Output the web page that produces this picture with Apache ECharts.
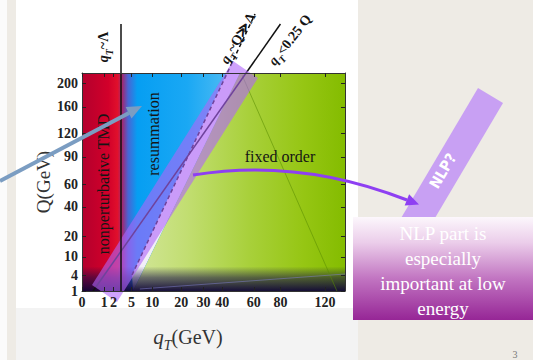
<!DOCTYPE html>
<html>
<head>
<meta charset="utf-8">
<script src="https://cdn.jsdelivr.net/npm/echarts@6/dist/echarts.min.js"></script>
<style>
  html, body { margin: 0; padding: 0; background: #eeebe5; }
  #chart { width: 533px; height: 360px; }
</style>
</head>
<body>
<div id="chart"></div>
<script>
// axis ticks (GeV), both axes are on a square-root scale
const qtTicks = [0, 1, 2, 5, 10, 20, 30, 40, 60, 80, 120];
const qTicks = [1, 4, 10, 20, 40, 60, 90, 120, 160, 200];
const qtMax = 140.5, qMin = 1, qMax = 218.7;

// regions, points are [qT, Q] in GeV
const fullPlane = [[0, 1], [140.5, 1], [140.5, 218.7], [0, 218.7]];
const gapRegion = [[5.08, 4.05], [42.7, 218.7], [50.7, 218.7], [5.3, 1]];
const fixedOrderRegion = [[5.3, 1], [50.7, 218.7], [140.5, 218.7], [140.5, 1]];
const lowQRegion = [[0, 1], [140.5, 1], [140.5, 6.5], [0, 6.5]];
const nlpBand = [[0.203, 1.903], [2.488, 0.0924], [62.9, 209.5], [46.31, 241.7]];

// lines
const lambdaLine = [[3.09, 1], [3.09, 320]];
const quarterQLine = [[0.25, 1], [80, 320]];      // qT = 0.25 Q
const qEqualLine = [[5.08, 4.05], [60.8, 343]];   // qT ~ Q >> Lambda
const triangleEdge = [[52, 215], [132, 1]];
const lowQEdge = [[6.8, 1.27], [140.5, 4.3]];

// in-plot labels
const notes = [
  { at: [0.98, 270], rot: 90, text: '{i|q}{s|T}~Λ', size: 14 },
  { at: [49.4, 289], rot: 60, text: '{i|q}{s|T}~Q≫Λ', size: 14 },
  { at: [87.9, 285], rot: 52, text: '{i|q}{s|T}<0.25 Q', size: 14 },
  { at: [0.9, 60.4], rot: 90, text: 'nonperturbative TMD', size: 16 },
  { at: [10.24, 119.5], rot: 90, text: 'resummation', size: 16 },
  { at: [79.6, 89.8], rot: 0, text: 'fixed order', size: 16 }
];

const SERIF = '"Liberation Serif", "DejaVu Serif", serif';
const sq = p => [Math.sqrt(p[0]), Math.sqrt(p[1])];

function region(name, pts, fill, z, clip) {
  return {
    type: 'custom', name, z, clip, silent: true, data: [[0, 1]],
    renderItem: (params, api) => ({
      type: 'polygon',
      shape: { points: pts.map(p => api.coord(sq(p))) },
      style: { fill }
    })
  };
}

function line(name, pts, lineStyle, z) {
  return {
    type: 'line', name, z, data: pts.map(sq), symbol: 'none',
    clip: false, silent: true, lineStyle
  };
}

const grad = (x2, y2, stops) => ({
  type: 'linear', x: 0, y: 0, x2, y2,
  colorStops: stops.map(s => ({ offset: s[0], color: s[1] }))
});

function noteRich(size) {
  return {
    i: { fontStyle: 'italic', fontSize: size, fontFamily: SERIF, fontWeight: 'bold', lineHeight: size + 8, verticalAlign: 'middle' },
    s: { fontStyle: 'italic', fontSize: size - 4, fontFamily: SERIF, fontWeight: 'bold', lineHeight: size + 8, verticalAlign: 'bottom' }
  };
}

const axisCommon = (vals, showLabel, position) => ({
  type: 'value',
  position,
  axisLine: { show: true, onZero: false, lineStyle: { color: '#333', width: 1 } },
  axisTick: { show: true, inside: true, length: 4, customValues: vals.map(v => Math.sqrt(v)), lineStyle: { color: '#222' } },
  axisLabel: {
    show: showLabel,
    customValues: vals.map(v => Math.sqrt(v)),
    formatter: v => String(Math.round(v * v)),
    fontFamily: SERIF, fontWeight: 'bold', fontSize: 14, color: '#222',
    margin: 4, hideOverlap: false
  },
  splitLine: { show: false },
  z: 10
});

const chart = echarts.init(document.getElementById('chart'), null, { renderer: 'svg' });

chart.setOption({
  animation: false,
  backgroundColor: '#eeebe5',
  grid: { left: 82, top: 73, width: 263, height: 218, containLabel: false, outerBoundsMode: 'none' },
  xAxis: [
    Object.assign(axisCommon(qtTicks, true, 'bottom'), { min: 0, max: Math.sqrt(qtMax) }),
    Object.assign(axisCommon(qtTicks, false, 'top'), { min: 0, max: Math.sqrt(qtMax) })
  ],
  yAxis: [
    Object.assign(axisCommon(qTicks, true, 'left'), {
      min: Math.sqrt(qMin), max: Math.sqrt(qMax),
      name: 'Q(GeV)', nameLocation: 'middle', nameRotate: 90, nameGap: 20,
      nameTextStyle: { fontFamily: SERIF, fontSize: 19, color: '#333' }
    }),
    Object.assign(axisCommon(qTicks, false, 'right'), { min: Math.sqrt(qMin), max: Math.sqrt(qMax) })
  ],
  series: [
    region('base', fullPlane, grad(1, 0, [
      [0, '#b3002d'], [0.1, '#d2002a'], [0.135, '#e0102c'], [0.155, '#9a2c78'],
      [0.175, '#4a64d4'], [0.21, '#069ef2'], [0.4, '#1aa8f4'], [0.6, '#5cc0f2'], [1, '#9fd8f0']
    ]), 1, true),
    region('gap', gapRegion, '#f2eef8', 2, true),
    region('fixed order', fixedOrderRegion, grad(1, 0, [
      [0, '#d2e69a'], [0.25, '#c2de72'], [0.55, '#a8d03a'], [0.8, '#96c614'], [1, '#84bc00']
    ]), 2, true),
    line('triangle edge', triangleEdge, { color: 'rgba(90,140,0,0.55)', width: 1 }, 3),
    region('low Q', lowQRegion, grad(0, 1, [
      [0, 'rgba(20,10,70,0)'], [0.45, 'rgba(20,10,70,0.55)'], [1, 'rgba(15,5,55,0.95)']
    ]), 3, true),
    line('low Q edge', lowQEdge, { color: 'rgba(130,130,210,0.5)', width: 1 }, 3),
    line('qT<0.25Q', quarterQLine, { color: '#111', width: 1.5 }, 4),
    line('qT~Q', qEqualLine, { color: '#111', width: 1.5, type: [4, 3] }, 4),
    region('NLP band', nlpBand, 'rgba(175,100,250,0.6)', 5, false),
    line('qT~Lambda', lambdaLine, { color: '#111', width: 1.5 }, 6),
    {
      type: 'custom', name: 'labels', z: 7, clip: false, silent: true,
      data: notes.map(n => sq(n.at)),
      renderItem: (params, api) => {
        const n = notes[params.dataIndex];
        const c = api.coord([api.value(0), api.value(1)]);
        return {
          type: 'text', x: c[0], y: c[1], rotation: n.rot * Math.PI / 180,
          style: {
            text: n.text, rich: noteRich(n.size), fill: '#151515',
            fontFamily: SERIF, fontSize: n.size, fontWeight: n.size === 14 ? 'bold' : 'normal',
            align: 'center', verticalAlign: 'middle'
          }
        };
      }
    }
  ],
  graphic: [
    { type: 'rect', z: 0, silent: true, shape: { x: 0, y: 0, width: 7, height: 360 }, style: { fill: '#fbfbfb' } },
    { type: 'rect', z: 0, silent: true, shape: { x: 16, y: 0, width: 342, height: 308 }, style: { fill: '#ffffff' } },
    { type: 'rect', z: 0, silent: true, shape: { x: 16, y: 308, width: 342, height: 52 }, style: { fill: '#f3f3f3' } },
    // x axis title
    {
      type: 'text', z: 100, x: 188, y: 337, silent: true,
      style: {
        text: '{i|q}{s|T}{n|(GeV)}', align: 'center', verticalAlign: 'middle', fill: '#333',
        rich: {
          i: { fontStyle: 'italic', fontFamily: SERIF, fontSize: 21, lineHeight: 30, verticalAlign: 'middle' },
          s: { fontStyle: 'italic', fontFamily: SERIF, fontSize: 14, lineHeight: 30, verticalAlign: 'bottom' },
          n: { fontFamily: SERIF, fontSize: 20, lineHeight: 30, verticalAlign: 'middle' }
        }
      }
    },
    // steel blue arrow from the left
    { type: 'polyline', z: 100, silent: true, shape: { points: [[0, 181], [129, 113]] }, style: { stroke: '#7b9dc2', lineWidth: 4, fill: null } },
    { type: 'polygon', z: 100, silent: true, shape: { points: [[142, 106], [131.5, 118.6], [125.7, 107]] }, style: { fill: '#7b9dc2' } },
    // NLP? bar
    { type: 'polygon', z: 100, silent: true, shape: { points: [[478, 88], [503, 103], [419, 245], [394, 230]] }, style: { fill: '#c8a0f3' } },
    {
      type: 'text', z: 101, x: 443, y: 171, rotation: 59.5 * Math.PI / 180, silent: true,
      style: { text: 'NLP?', fill: '#fff', font: 'bold 15px "Liberation Sans Narrow", "DejaVu Sans Condensed", sans-serif', align: 'center', verticalAlign: 'middle' }
    },
    // purple curved arrow
    { type: 'bezierCurve', z: 100, silent: true, shape: { x1: 193, y1: 175, x2: 407, y2: 200, cpx1: 299.5, cpy1: 157.5 }, style: { stroke: '#8e3ff2', lineWidth: 3, fill: null } },
    { type: 'polygon', z: 100, silent: true, shape: { points: [[419, 204.5], [404.7, 205.4], [409.1, 194.2]] }, style: { fill: '#8e3ff2' } },
    // text box
    {
      type: 'rect', z: 102, silent: true, shape: { x: 353, y: 217, width: 180, height: 103 },
      style: { fill: grad(0, 1, [[0, '#fcf7fc'], [0.25, '#ebcdea'], [0.6, '#c174c1'], [1, '#962696']]) }
    },
    {
      type: 'text', z: 103, x: 443, y: 271, silent: true,
      style: { text: 'NLP part is\nespecially\nimportant at low\nenergy', fill: '#fff', font: '19px ' + SERIF, lineHeight: 25, align: 'center', verticalAlign: 'middle' }
    },
    { type: 'text', z: 100, x: 515, y: 354, silent: true, style: { text: '3', fill: '#777', font: '10px ' + SERIF, align: 'center', verticalAlign: 'middle' } }
  ]
});
</script>
</body>
</html>
